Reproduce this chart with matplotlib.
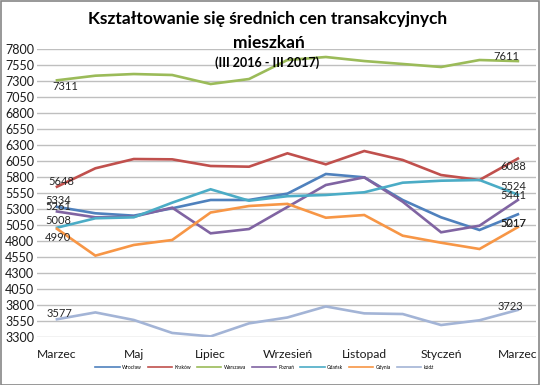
import matplotlib
matplotlib.use("Agg")
import matplotlib.pyplot as plt
from matplotlib.patches import Rectangle

months = ["Marzec", "Kwiecień", "Maj", "Czerwiec", "Lipiec", "Sierpień", "Wrzesień",
          "Październik", "Listopad", "Grudzień", "Styczeń", "Luty", "Marzec"]
tick_labels = ["Marzec", "Maj", "Lipiec", "Wrzesień", "Listopad", "Styczeń", "Marzec"]

wroclaw  = [5334, 5233, 5196, 5311, 5441, 5441, 5540, 5847, 5795, 5441, 5170, 4972, 5217]
krakow   = [5648, 5936, 6081, 6076, 5972, 5961, 6170, 5998, 6206, 6066, 5831, 5753, 6088]
warszawa = [7311, 7383, 7409, 7394, 7253, 7331, 7628, 7675, 7612, 7566, 7519, 7628, 7611]
poznan   = [5261, 5170, 5180, 5321, 4920, 4987, 5331, 5675, 5795, 5414, 4936, 5039, 5441]
gdansk   = [5008, 5155, 5170, 5399, 5608, 5430, 5500, 5519, 5561, 5711, 5742, 5753, 5524]
gdynia   = [4990, 4571, 4738, 4816, 5245, 5347, 5380, 5164, 5206, 4883, 4773, 4675, 5017]
lodz     = [3577, 3684, 3566, 3363, 3309, 3513, 3605, 3777, 3669, 3659, 3487, 3561, 3723]

series = [
    ("Wrocław", wroclaw, "#4F81BD"),
    ("Kraków", krakow, "#C0504D"),
    ("Warszawa", warszawa, "#9BBB59"),
    ("Poznań", poznan, "#8064A2"),
    ("Gdańsk", gdansk, "#4BACC6"),
    ("Gdynia", gdynia, "#F79646"),
    ("Łódź", lodz, "#A3B4D6"),
]

plt.rcParams['font.family'] = ['Lato', 'DejaVu Sans']

fig = plt.figure(figsize=(5.4, 3.85), dpi=100)
ax = fig.add_axes([0.0685, 0.1247, 0.924, 0.748])

x = list(range(len(months)))
for name, vals, col in series:
    ax.plot(x, vals, color=col, lw=1.9, label=name, solid_joinstyle='miter')

# data labels (start / end values)
start_off = {"Wrocław": (1, 6), "Kraków": (4, 5), "Warszawa": (8, -6), "Poznań": (1, 4.5),
             "Gdańsk": (1, 7), "Gdynia": (1, -9), "Łódź": (3, 6)}
end_off = {"Wrocław": (-5, -9), "Kraków": (-5, -7.5), "Warszawa": (-12, 5), "Poznań": (-5, 4),
           "Gdańsk": (-5, 7.7), "Gdynia": (-5, 4), "Łódź": (-8, 3.4)}
for name, vals, col in series:
    for idx, offs in ((0, start_off), (len(vals) - 1, end_off)):
        ax.annotate(str(vals[idx]), (x[idx], vals[idx]), xytext=offs[name],
                    textcoords='offset pixels', ha='center', va='center',
                    fontsize=8, color='#262626')

ax.set_xlim(-0.52, 12.47)
ax.set_ylim(3300, 7800)
ax.set_yticks(range(3300, 7801, 250))
ax.tick_params(axis='y', length=0, labelsize=9, pad=2, colors='#1a1a1a')
ax.set_xticks(x[::2])
ax.set_xticklabels(tick_labels)
ax.tick_params(axis='x', length=0, labelsize=8.7, pad=9, colors='#1a1a1a')
ax.grid(axis='y', color='#BFBFBF', lw=1)
ax.set_axisbelow(True)
for s in ax.spines.values():
    s.set_visible(False)

fig.text(0.495, 0.951, "Kształtowanie się średnich cen transakcyjnych",
         ha='center', va='center', fontsize=12.5, fontweight='bold')
fig.text(0.497, 0.889, "mieszkań",
         ha='center', va='center', fontsize=12.5, fontweight='bold')
fig.text(0.495, 0.836, "(III 2016 - III 2017)", ha='center', va='center',
         fontsize=9, fontweight='bold')

leg = fig.legend(loc='center', bbox_to_anchor=(0.49, 0.045), ncol=7, frameon=False,
                 fontsize=3.5, handlelength=5, columnspacing=1.2, handletextpad=0.5)
for line in leg.get_lines():
    line.set_linewidth(1.2)

fig.patches.append(Rectangle((0.001, 0.001), 0.997, 0.997, transform=fig.transFigure,
                             fill=False, edgecolor='#868686', lw=1.2))

fig.savefig("out.png", dpi=100)
